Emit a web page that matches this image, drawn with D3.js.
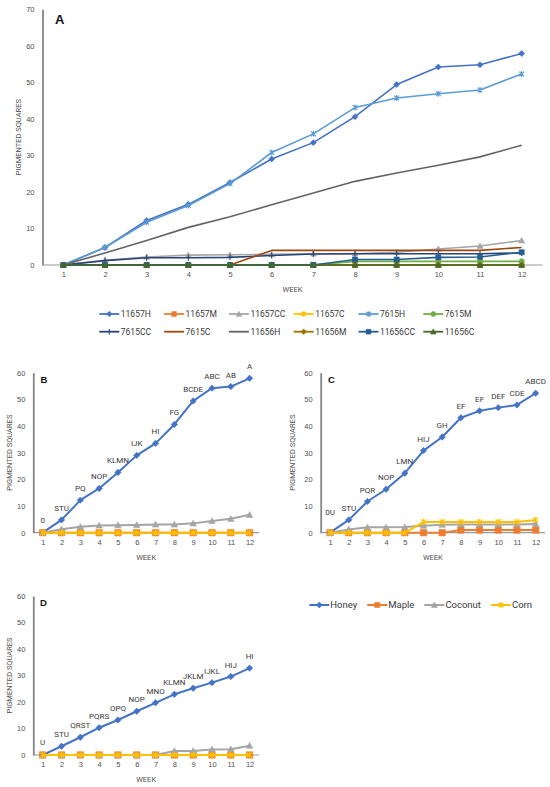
<!DOCTYPE html>
<html>
<head>
<meta charset="utf-8">
<script src="https://cdn.jsdelivr.net/npm/d3@7"></script>
<style>
  body { margin: 0; background: #fff; }
  svg { display: block; font-family: Roboto, "Liberation Sans", sans-serif; }
  .tick text { fill: #505050; }
</style>
</head>
<body>
<svg id="chart" width="550" height="787"></svg>
<script>
// weeks on the x axis
const weeks = [1, 2, 3, 4, 5, 6, 7, 8, 9, 10, 11, 12];
const ticksA = [0, 10, 20, 30, 40, 50, 60, 70];
const ticksBCD = [0, 10, 20, 30, 40, 50, 60];

// strain 11657
const s11657H  = [0, 4.8, 12.2, 16.6, 22.6, 29.0, 33.5, 40.6, 49.4, 54.2, 54.8, 57.9];
const s11657M  = [0, 0, 0, 0, 0, 0, 0, 0, 0, 0, 0, 0];
const s11657CC = [0, 1.3, 2.2, 2.7, 2.8, 2.9, 3.1, 3.1, 3.5, 4.4, 5.2, 6.7];
const s11657C  = [0, 0, 0, 0, 0, 0, 0, 0, 0, 0, 0, 0];
// strain 7615
const s7615H   = [0, 4.8, 11.7, 16.3, 22.3, 30.8, 35.9, 43.1, 45.7, 46.9, 47.9, 52.3];
const s7615M   = [0, 0, 0, 0, 0, 0, 0, 1.0, 1.0, 1.0, 1.0, 1.0];
const s7615CC  = [0, 1.2, 2.0, 2.0, 2.1, 2.6, 3.0, 3.1, 3.1, 3.1, 3.1, 3.3];
const s7615C   = [0, 0, 0, 0, 0, 4.0, 4.0, 4.0, 4.0, 4.0, 4.0, 4.8];
// strain 11656
const s11656H  = [0, 3.3, 6.7, 10.3, 13.2, 16.5, 19.7, 22.9, 25.2, 27.3, 29.6, 32.8];
const s11656M  = [0, 0, 0, 0, 0, 0, 0, 0, 0, 0, 0, 0];
const s11656CC = [0, 0, 0, 0, 0, 0, 0, 1.5, 1.5, 2.1, 2.2, 3.5];
const s11656C  = [0, 0, 0, 0, 0, 0, 0, 0, 0, 0, 0, 0];

// significance letters above the honey points
const lettersB = ["0", "STU", "PQ", "NOP", "KLMN", "IJK", "HI", "FG", "BCDE", "ABC", "AB", "A"];
const lettersC = ["0U", "STU", "PQR", "NOP", "LMN", "HIJ", "GH", "EF", "EF", "DEF", "CDE", "ABCD"];
const lettersD = ["U", "STU", "QRST", "PQRS", "OPQ", "NOP", "MNO", "KLMN", "JKLM", "IJKL", "HIJ", "HI"];

const namesA = ["11657H", "11657M", "11657CC", "11657C", "7615H", "7615M",
                "7615CC", "7615C", "11656H", "11656M", "11656CC", "11656C"];
const treatments = ["Honey", "Maple", "Coconut", "Corn"];

const colorsA = ["#4472C4", "#ED7D31", "#A5A5A5", "#FFC000", "#5B9BD5", "#70AD47",
                 "#264478", "#9E480E", "#636363", "#997300", "#255E91", "#43682B"];
const markersA = ["diamond", "square", "triangle", "star", "star", "circle",
                  "plus", "none", "none", "diamond", "square", "triangle"];
const colorsT = ["#4472C4", "#ED7D31", "#A5A5A5", "#FFC000"];
const markersT = ["diamond", "square", "triangle", "star"];

const svg = d3.select("#chart");

function markerPath(type, r) {
  if (type === "diamond") return `M0,${-r}L${r},0L0,${r}L${-r},0Z`;
  if (type === "square") return `M${-r * 0.85},${-r * 0.85}h${r * 1.7}v${r * 1.7}h${-r * 1.7}Z`;
  if (type === "triangle") return `M0,${-r}L${r},${r * 0.8}L${-r},${r * 0.8}Z`;
  if (type === "circle") return d3.symbol(d3.symbolCircle, Math.PI * r * r * 0.8)();
  if (type === "star") {
    let k = r * 0.8;
    return `M${-k},${-k}L${k},${k}M${-k},${k}L${k},${-k}M0,${-r}L0,${r}`;
  }
  if (type === "plus") return `M0,${-r}L0,${r}`;
  return null;
}

function drawMarker(g, type, color, x, y, r) {
  let p = markerPath(type, r);
  if (!p) return;
  let open = (type === "star" || type === "plus");
  g.append("path")
    .attr("d", p)
    .attr("transform", "translate(" + x + "," + y + ")")
    .attr("fill", open ? "none" : color)
    .attr("stroke", color)
    .attr("stroke-width", open ? 1.1 : 0.6);
}

function drawPanel(cfg) {
  let g = svg.append("g");
  let x = d3.scalePoint().domain(weeks).range([cfg.left, cfg.right]).padding(0.5);
  let y = d3.scaleLinear().domain([0, cfg.ticks[cfg.ticks.length - 1]]).range([cfg.bottom, cfg.top]);

  // y axis
  let yAxis = d3.axisLeft(y).tickValues(cfg.ticks).tickSize(0).tickPadding(cfg.tickPad);
  let ya = g.append("g")
    .attr("transform", "translate(" + cfg.left + ",0)")
    .call(yAxis);
  ya.select(".domain").attr("stroke", "#858585").attr("stroke-width", 1.8);
  ya.selectAll("text").attr("font-size", cfg.tickSize);

  // x axis
  let xAxis = d3.axisBottom(x).tickSize(0).tickPadding(cfg.xPad);
  let xa = g.append("g")
    .attr("transform", "translate(0," + cfg.bottom + ")")
    .call(xAxis);
  xa.select(".domain").attr("d", "M" + cfg.left + ",0H" + cfg.right)
    .attr("stroke", "#9a9a9a").attr("stroke-width", 1.2);
  xa.selectAll("text").attr("font-size", cfg.tickSize);

  // titles
  g.append("text")
    .attr("x", (cfg.left + cfg.right) / 2).attr("y", cfg.weekY)
    .attr("text-anchor", "middle").attr("font-size", cfg.titleSize).attr("fill", "#505050")
    .text("WEEK");
  g.append("text")
    .attr("transform", "translate(" + cfg.titleX + "," + ((cfg.top + cfg.bottom) / 2) + ") rotate(-90)")
    .attr("text-anchor", "middle").attr("dy", "0.35em")
    .attr("font-size", cfg.titleSize).attr("fill", "#505050")
    .text("PIGMENTED SQUARES");
  g.append("text")
    .attr("x", cfg.letterX).attr("y", cfg.letterY)
    .attr("font-size", cfg.letterSize).attr("font-weight", "bold")
    .attr("font-family", "'Liberation Sans', Arial, sans-serif")
    .attr("fill", "#111")
    .text(cfg.letter);

  let line = d3.line().x((d, i) => x(weeks[i])).y(d => y(d));

  cfg.series.forEach(function (s) {
    g.append("path")
      .datum(s.values)
      .attr("d", line)
      .attr("fill", "none")
      .attr("stroke", s.color)
      .attr("stroke-width", cfg.lineWidth)
      .attr("stroke-linejoin", "round");
    let r = (cfg.squareR && s.marker === "square") ? cfg.squareR : cfg.markerR;
    s.values.forEach(function (v, i) {
      drawMarker(g, s.marker, s.color, x(weeks[i]), y(v), r);
    });
  });

  if (cfg.labels) {
    let honey = cfg.series[0].values;
    g.selectAll(".lab")
      .data(cfg.labels)
      .enter()
      .append("text")
      .attr("x", (d, i) => x(weeks[i]))
      .attr("y", (d, i) => y(honey[i]) - (i === 0 ? cfg.firstLift : 9))
      .attr("text-anchor", "middle")
      .attr("font-size", 8)
      .attr("fill", "#3a3a3a")
      .text(d => d);
  }
}

function treatmentSeries(vals) {
  return vals.map((v, i) => ({ values: v, color: colorsT[i], marker: markersT[i] }));
}

// panel A
drawPanel({
  left: 42.5, right: 542.5, top: 9.3, bottom: 265,
  ticks: ticksA, tickSize: 7.5, tickPad: 8, xPad: 7, titleSize: 7.5,
  weekY: 291.5, titleX: 18, letter: "A", letterX: 55, letterY: 23.5, letterSize: 13,
  lineWidth: 1.6, markerR: 3,
  series: namesA.map((n, i) => ({
    values: [s11657H, s11657M, s11657CC, s11657C, s7615H, s7615M,
             s7615CC, s7615C, s11656H, s11656M, s11656CC, s11656C][i],
    color: colorsA[i], marker: markersA[i]
  }))
});

// panel B
drawPanel({
  left: 33.3, right: 259, top: 372.7, bottom: 532.7,
  ticks: ticksBCD, tickSize: 7.5, tickPad: 8, xPad: 7, titleSize: 7.5,
  weekY: 559.5, titleX: 9.5, letter: "B", letterX: 40.5, letterY: 383, letterSize: 9.5,
  lineWidth: 2, markerR: 3.2, squareR: 3.8, firstLift: 10,
  labels: lettersB,
  series: treatmentSeries([s11657H, s11657M, s11657CC, s11657C])
});

// panel C
drawPanel({
  left: 320.7, right: 545, top: 372.7, bottom: 532.7,
  ticks: ticksBCD, tickSize: 7.5, tickPad: 8, xPad: 7, titleSize: 7.5,
  weekY: 559.5, titleX: 292.7, letter: "C", letterX: 328, letterY: 383, letterSize: 9.5,
  lineWidth: 2, markerR: 3.2, squareR: 3.8, firstLift: 18,
  labels: lettersC,
  series: treatmentSeries([s7615H, s7615M, s7615CC, s7615C])
});

// panel D
drawPanel({
  left: 33.3, right: 259, top: 596, bottom: 755,
  ticks: ticksBCD, tickSize: 7.5, tickPad: 8, xPad: 7, titleSize: 7.5,
  weekY: 782, titleX: 9.5, letter: "D", letterX: 40, letterY: 606, letterSize: 9.5,
  lineWidth: 2, markerR: 3.2, squareR: 3.8, firstLift: 10,
  labels: lettersD,
  series: treatmentSeries([s11656H, s11656M, s11656CC, s11656C])
});

// legend for A
const legA = svg.append("g");
namesA.forEach(function (n, i) {
  let col = i % 6, row = Math.floor(i / 6);
  let lx = 99.3 + col * 64.8, ly = 314 + row * 17.7;
  let it = legA.append("g");
  it.append("line").attr("x1", lx).attr("x2", lx + 20).attr("y1", ly).attr("y2", ly)
    .attr("stroke", colorsA[i]).attr("stroke-width", 1.8);
  drawMarker(it, markersA[i], colorsA[i], lx + 10, ly, 2.8);
  it.append("text").attr("x", lx + 21.5).attr("y", ly).attr("dy", "0.35em")
    .attr("font-size", 8.5).attr("fill", "#3a3a3a").text(n);
});

// legend for B, C, D
const legT = svg.append("g");
let cx = 309.3;
treatments.forEach(function (n, i) {
  let ly = 605;
  legT.append("line").attr("x1", cx).attr("x2", cx + 20).attr("y1", ly).attr("y2", ly)
    .attr("stroke", colorsT[i]).attr("stroke-width", 2);
  drawMarker(legT, markersT[i], colorsT[i], cx + 10, ly, 3);
  let t = legT.append("text").attr("x", cx + 21).attr("y", ly).attr("dy", "0.35em")
    .attr("font-size", 9.5).attr("fill", "#3a3a3a").text(n);
  cx += 21 + t.node().getComputedTextLength() + 10;
});
</script>
</body>
</html>
